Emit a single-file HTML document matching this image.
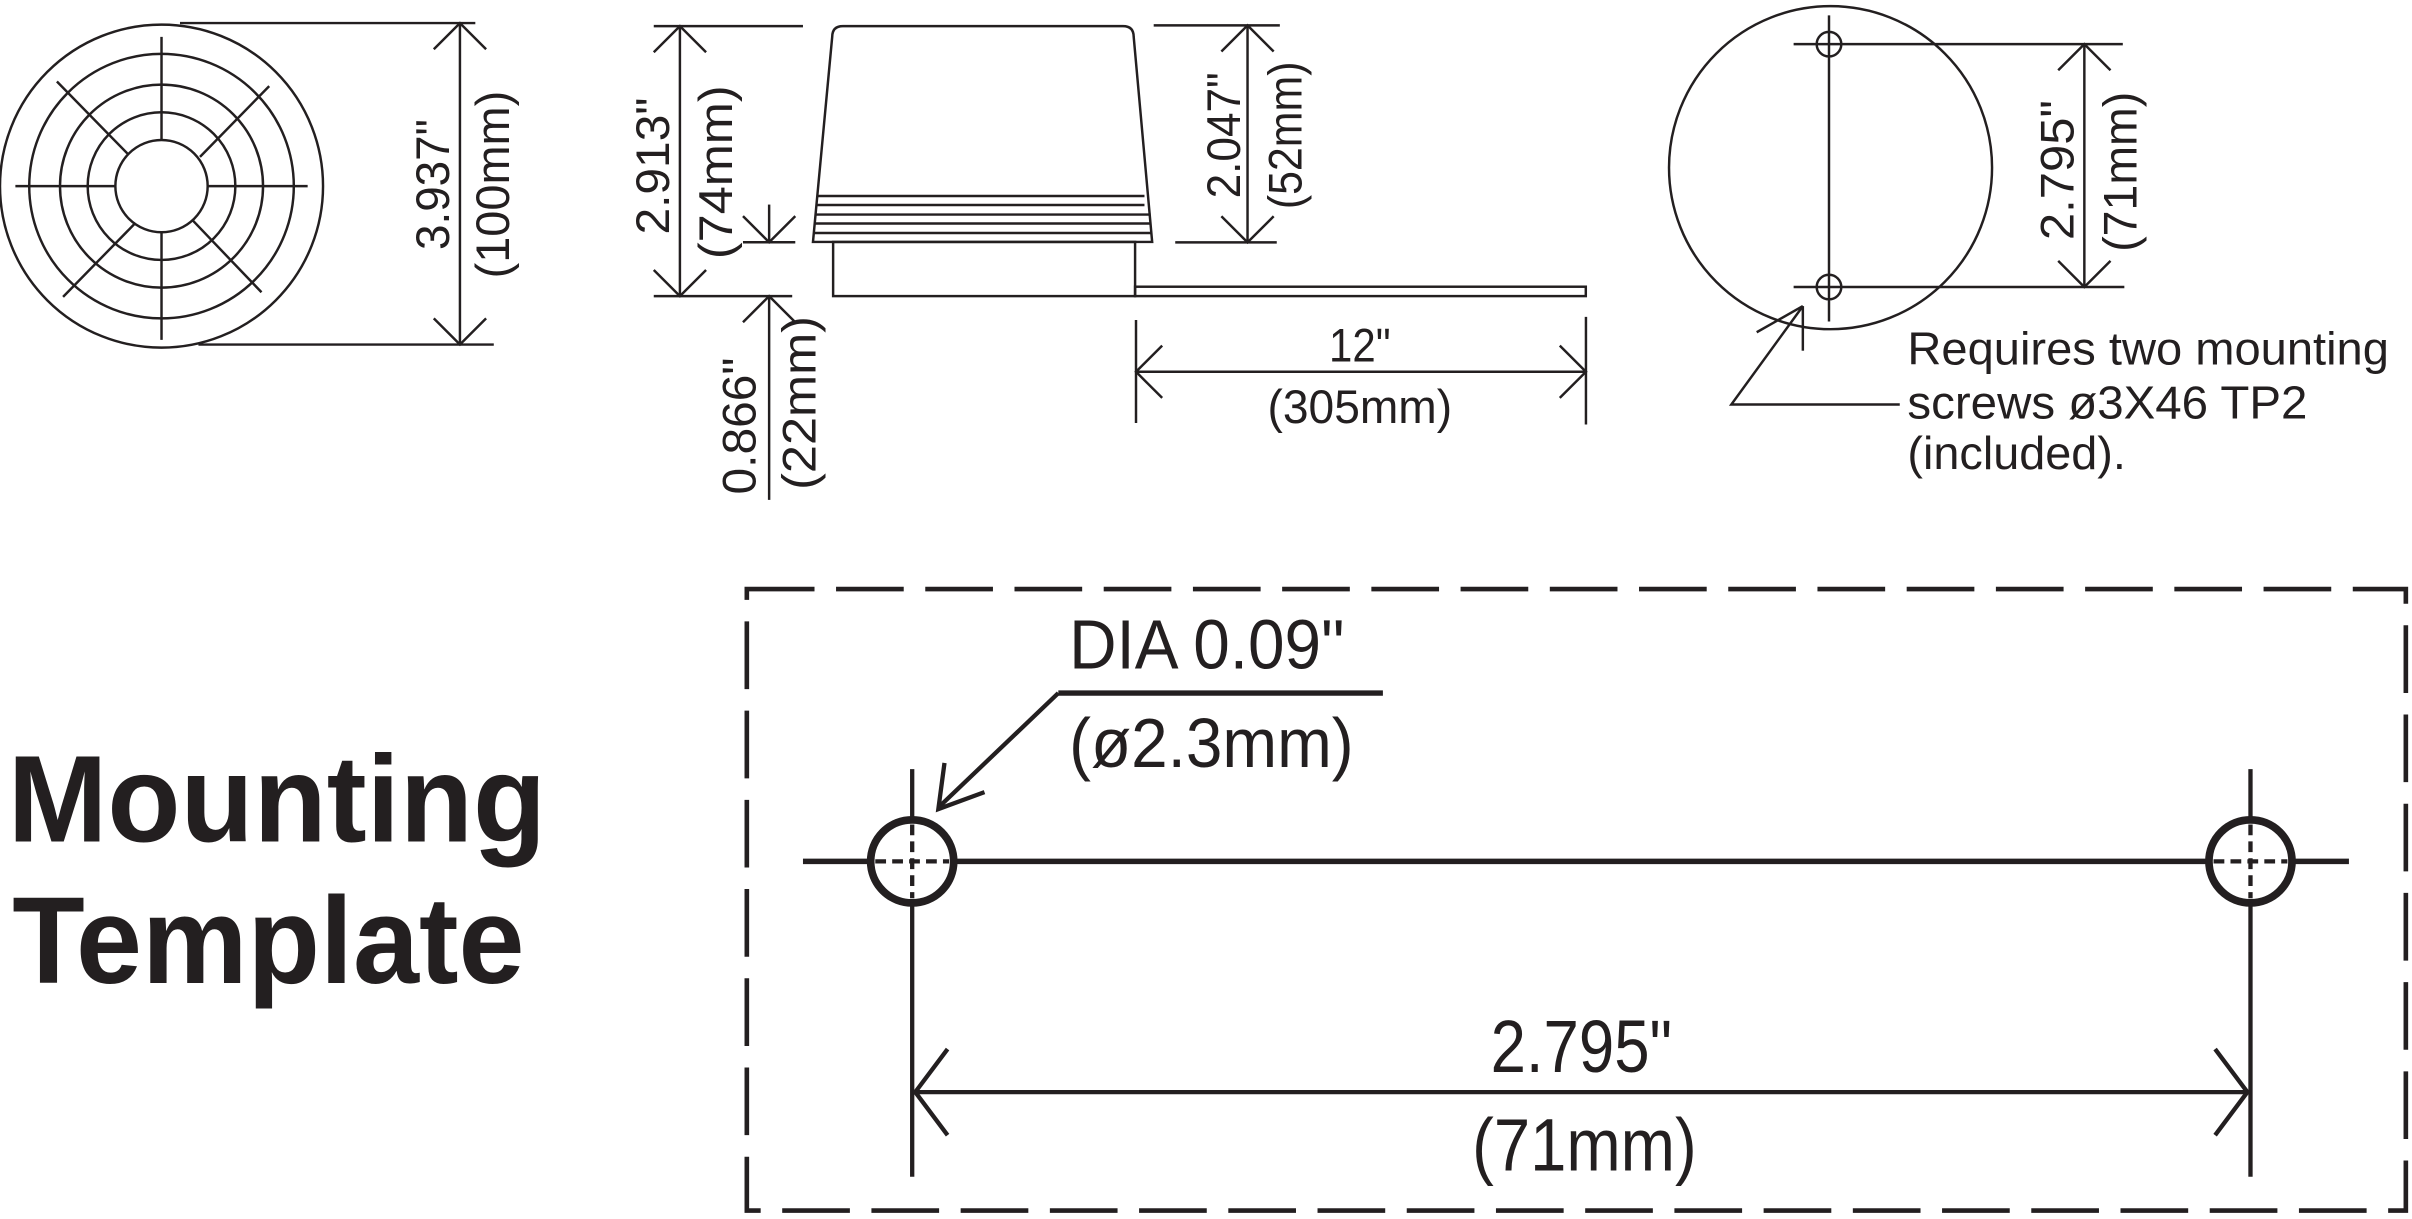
<!DOCTYPE html>
<html><head><meta charset="utf-8"><style>
html,body{margin:0;padding:0;background:#fff;}
svg{display:block;}
text{font-family:"Liberation Sans",Arial,sans-serif;fill:#231f20;}
</style></head><body>
<svg width="2412" height="1219" viewBox="0 0 1568 792.5" preserveAspectRatio="none" xmlns="http://www.w3.org/2000/svg">
<g fill="none" stroke="#231f20" stroke-width="1.6">
<circle cx="105" cy="121" r="105"/>
<circle cx="105" cy="121" r="86"/>
<circle cx="105" cy="121" r="66"/>
<circle cx="105" cy="121" r="48"/>
<circle cx="105" cy="121" r="30"/>
<line x1="105" y1="24" x2="105" y2="91"/><line x1="105" y1="151" x2="105" y2="221"/>
<line x1="10" y1="121" x2="75" y2="121"/><line x1="135" y1="121" x2="200" y2="121"/>
<line x1="37" y1="53" x2="83" y2="100"/><line x1="175" y1="56" x2="130" y2="102"/>
<line x1="41" y1="193" x2="88" y2="145"/><line x1="170" y1="190" x2="125" y2="143"/>
<line x1="117" y1="15" x2="309" y2="15"/><line x1="129" y1="224" x2="321" y2="224"/>
<line x1="299" y1="15" x2="299" y2="224"/>
<polyline points="282,32 299,15 316,32"/><polyline points="282,207 299,224 316,207"/>

<line x1="425" y1="17" x2="522" y2="17"/><line x1="425" y1="192.5" x2="515" y2="192.5"/>
<line x1="442" y1="17" x2="442" y2="192.5"/>
<polyline points="425,34 442,17 459,34"/><polyline points="425,175.5 442,192.5 459,175.5"/>
<line x1="500" y1="133" x2="500" y2="157.5"/><line x1="483" y1="157.5" x2="517" y2="157.5"/>
<polyline points="483,140.5 500,157.5 517,140.5"/>
<line x1="500" y1="192.5" x2="500" y2="325"/><polyline points="483,209.5 500,192.5 517,209.5"/>

<path d="M528.5,157.3 L541,24 Q541,17 548,17 L730,17 Q737,17 737,24 L749,157.3 Z"/>
<line x1="531" y1="127.4" x2="744" y2="127.4"/>
<line x1="530.5" y1="133.3" x2="744" y2="133.3"/>
<line x1="530" y1="139.5" x2="748" y2="139.5"/>
<line x1="529.5" y1="145.3" x2="748.5" y2="145.3"/>
<line x1="529" y1="151.5" x2="749" y2="151.5"/>
<rect x="541.6" y="157.3" width="196.3" height="35.2"/>
<rect x="737.9" y="186.4" width="293" height="6.1"/>

<line x1="750" y1="16.5" x2="832" y2="16.5"/><line x1="764" y1="157.6" x2="830" y2="157.6"/>
<line x1="811" y1="16.5" x2="811" y2="157.6"/>
<polyline points="794,33.5 811,16.5 828,33.5"/><polyline points="794,140.6 811,157.6 828,140.6"/>

<line x1="738.5" y1="208" x2="738.5" y2="275"/><line x1="1031" y1="206" x2="1031" y2="276"/>
<line x1="738.5" y1="241.7" x2="1031" y2="241.7"/>
<polyline points="755.5,224.7 738.5,241.7 755.5,258.7"/><polyline points="1014,224.7 1031,241.7 1014,258.7"/>

<circle cx="1190" cy="109" r="105"/>
<line x1="1189" y1="10" x2="1189" y2="209"/>
<circle cx="1189" cy="28.7" r="8"/><circle cx="1189" cy="186.6" r="8"/>
<line x1="1166" y1="28.7" x2="1380" y2="28.7"/><line x1="1166" y1="186.6" x2="1381" y2="186.6"/>
<line x1="1355" y1="28.7" x2="1355" y2="186.6"/>
<polyline points="1338,45.7 1355,28.7 1372,45.7"/><polyline points="1338,169.6 1355,186.6 1372,169.6"/>
<polyline points="1235,263 1125.5,263 1172,199"/>
<line x1="1172" y1="199" x2="1142" y2="216"/><line x1="1172" y1="199" x2="1172" y2="228"/>
</g>
<g stroke="#231f20" stroke-width="1" stroke-dasharray="2 2">
<line x1="1184" y1="28.7" x2="1194" y2="28.7"/><line x1="1184" y1="186.6" x2="1194" y2="186.6"/>
</g>

<text font-size="31" text-anchor="middle" transform="translate(292,120) rotate(-90)" textLength="85" lengthAdjust="spacingAndGlyphs">3.937"</text>
<text font-size="31" text-anchor="middle" transform="translate(331,120) rotate(-90)" textLength="122" lengthAdjust="spacingAndGlyphs">(100mm)</text>
<text font-size="31" text-anchor="middle" transform="translate(435,108) rotate(-90)" textLength="89" lengthAdjust="spacingAndGlyphs">2.913"</text>
<text font-size="31" text-anchor="middle" transform="translate(476,112) rotate(-90)" textLength="113" lengthAdjust="spacingAndGlyphs">(74mm)</text>
<text font-size="31" text-anchor="middle" transform="translate(491,277) rotate(-90)" textLength="89" lengthAdjust="spacingAndGlyphs">0.866"</text>
<text font-size="31" text-anchor="middle" transform="translate(530,262) rotate(-90)" textLength="113" lengthAdjust="spacingAndGlyphs">(22mm)</text>
<text font-size="31" text-anchor="middle" transform="translate(806,88) rotate(-90)" textLength="82" lengthAdjust="spacingAndGlyphs">2.047"</text>
<text font-size="31" text-anchor="middle" transform="translate(846,88) rotate(-90)" textLength="96" lengthAdjust="spacingAndGlyphs">(52mm)</text>
<text font-size="31" text-anchor="middle" transform="translate(1348,110.6) rotate(-90)" textLength="91" lengthAdjust="spacingAndGlyphs">2.795"</text>
<text font-size="31" text-anchor="middle" transform="translate(1389,111.7) rotate(-90)" textLength="104" lengthAdjust="spacingAndGlyphs">(71mm)</text>
<text font-size="31" x="884" y="235" text-anchor="middle" textLength="40" lengthAdjust="spacingAndGlyphs">12"</text>
<text font-size="31" x="884" y="275" text-anchor="middle" textLength="120" lengthAdjust="spacingAndGlyphs">(305mm)</text>
<text font-size="30" x="1240" y="237" textLength="313" lengthAdjust="spacingAndGlyphs">Requires two mounting</text>
<text font-size="30" x="1240" y="272" textLength="260" lengthAdjust="spacingAndGlyphs">screws ø3X46 TP2</text>
<text font-size="30" x="1240" y="305" textLength="142" lengthAdjust="spacingAndGlyphs">(included).</text>

<text font-size="80" font-weight="bold" x="5" y="547" textLength="350" lengthAdjust="spacingAndGlyphs">Mounting</text>
<text font-size="80" font-weight="bold" x="8" y="639" textLength="333" lengthAdjust="spacingAndGlyphs">Template</text>

<rect x="485.5" y="383" width="1078.5" height="404" fill="none" stroke="#231f20" stroke-width="3" stroke-dasharray="44 14"/>
<g fill="none" stroke="#231f20" stroke-width="3.5">
<line x1="522" y1="560" x2="566" y2="560"/><line x1="620" y1="560" x2="1436" y2="560"/><line x1="1490" y1="560" x2="1527" y2="560"/>
<circle cx="593" cy="560" r="27" stroke-width="5"/><circle cx="1463" cy="560" r="27" stroke-width="5"/>
<line x1="688" y1="450.6" x2="899" y2="450.6"/>
</g>
<g fill="none" stroke="#231f20" stroke-width="2.8">
<line x1="593" y1="500" x2="593" y2="533"/><line x1="593" y1="587" x2="593" y2="765"/>
<line x1="1463" y1="500" x2="1463" y2="533"/><line x1="1463" y1="587" x2="1463" y2="765"/>
<line x1="593" y1="536" x2="593" y2="584" stroke-dasharray="7 4"/><line x1="569" y1="560" x2="617" y2="560" stroke-dasharray="7 4"/>
<line x1="1463" y1="536" x2="1463" y2="584" stroke-dasharray="7 4"/><line x1="1439" y1="560" x2="1487" y2="560" stroke-dasharray="7 4"/>
<line x1="593" y1="710" x2="1463" y2="710"/>
<polyline points="616,682 595,710 616,738"/><polyline points="1440,682 1461,710 1440,738"/>
<line x1="688" y1="450.6" x2="610" y2="525"/>
<polyline points="614,496 610,526 640,515"/>
</g>
<text font-size="45" x="695" y="434.5" textLength="179" lengthAdjust="spacingAndGlyphs">DIA 0.09"</text>
<text font-size="45" x="695" y="498.5" textLength="185" lengthAdjust="spacingAndGlyphs">(ø2.3mm)</text>
<text font-size="48" x="1028" y="697" text-anchor="middle" textLength="118" lengthAdjust="spacingAndGlyphs">2.795"</text>
<text font-size="48" x="1030" y="761" text-anchor="middle" textLength="146" lengthAdjust="spacingAndGlyphs">(71mm)</text>
</svg>
</body></html>
